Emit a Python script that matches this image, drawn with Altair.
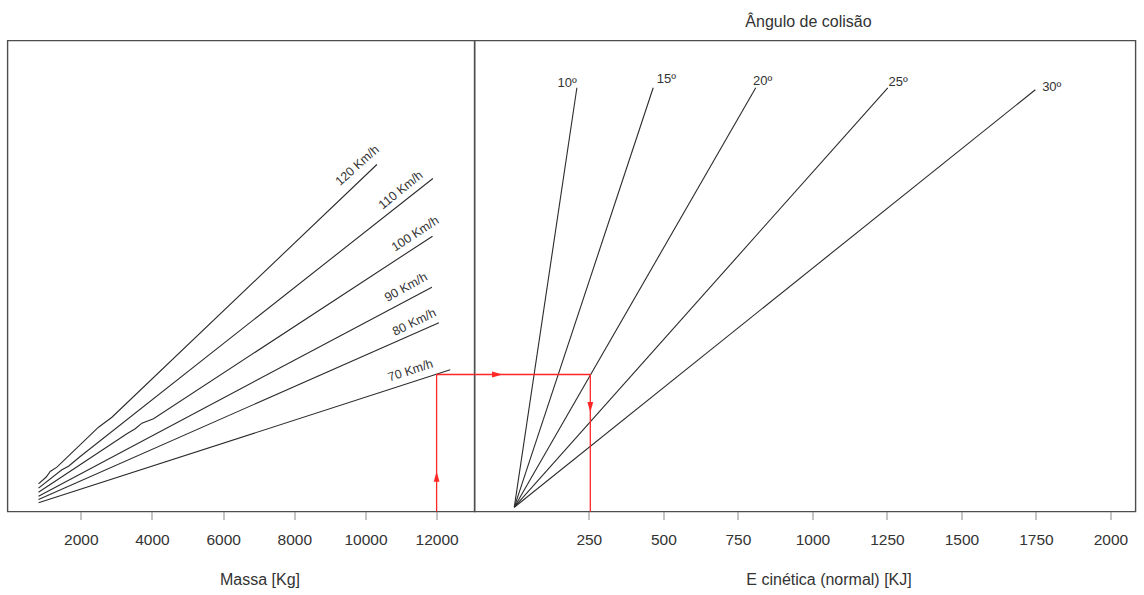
import altair as alt
import pandas as pd

FONT = "Liberation Sans"
TEXT = "#333333"
LINE = "#2b2b2b"
RED = "#ff2626"

# ---------------- left panel: mass vs. total kinetic energy ----------------
speed_names = ["120 Km/h", "110 Km/h", "100 Km/h", "90 Km/h", "80 Km/h", "70 Km/h"]
mass_120 = [811, 1027, 1140, 1328, 2497, 2874, 10322]
energy_120 = [400, 516, 610, 684, 1367, 1538, 5857]
mass_110 = [811, 1468, 1654, 1983, 11896]
energy_110 = [325, 639, 701, 867, 5618]
mass_100 = [811, 3295, 3529, 3717, 4043, 11885]
energy_100 = [256, 1254, 1340, 1436, 1511, 4632]
mass_90 = [811, 11868]
energy_90 = [188, 3760]
mass_80 = [811, 12065]
energy_80 = [132, 3152]
mass_70 = [811, 12383]
energy_70 = [75, 2348]

speed_label_mass = [9769, 10989, 11399, 11138, 11371, 11267]
speed_label_energy = [5840, 5421, 4673, 3760, 3162, 2336]
speed_label_angle = [318, 321, 327, 331, 334, 342]

mass_ticks = [2000, 4000, 6000, 8000, 10000, 12000]

# ---------------- right panel: collision angle fan ----------------
angle_names = ["10º", "15º", "20º", "25º", "30º"]
angle_end_en = [210, 466, 810, 1253, 1748]
angle_end_energy = [7168, 7168, 7168, 7168, 7134]
angle_label_en = [177, 510, 833, 1288, 1803]
angle_label_energy = [7178, 7253, 7219, 7190, 7110]

en_ticks = [250, 500, 750, 1000, 1250, 1500, 1750, 2000]

# ---------------- worked example (red path) ----------------
example_mass = 12000
example_energy = 2268
example_en = 255
arrow_up_energy = 525
arrow_right_en = -57
arrow_down_energy = 1709

# scales
MASS_DOMAIN = [-61, 13065]
EN_DOMAIN = [-133.5, 2084]
E_DOMAIN = [-73.5, 7976]
xl = alt.Scale(domain=MASS_DOMAIN, nice=False, zero=False)
xr = alt.Scale(domain=EN_DOMAIN, nice=False, zero=False)
ys = alt.Scale(domain=E_DOMAIN, nice=False, zero=False)

axis_left = alt.Axis(values=mass_ticks, format="d", title="Massa [Kg]", titleX=252, titleY=73,
                     titleBaseline="alphabetic", titleAlign="center", labelFlush=False)
axis_right = alt.Axis(values=en_ticks, format="d", title="E cinética (normal) [KJ]", titleX=354, titleY=73,
                      titleBaseline="alphabetic", titleAlign="center", labelFlush=False)

W1, W2, H = 467, 661, 471

# data frames
rows = []
for name, ms, es in zip(speed_names,
                        [mass_120, mass_110, mass_100, mass_90, mass_80, mass_70],
                        [energy_120, energy_110, energy_100, energy_90, energy_80, energy_70]):
    for i, (m, e) in enumerate(zip(ms, es)):
        rows.append({"speed": name, "i": i, "m": m, "E": e})
speed_df = pd.DataFrame(rows)
speed_lab_df = pd.DataFrame({"speed": speed_names, "m": speed_label_mass,
                             "E": speed_label_energy, "ang": speed_label_angle})

rows = []
for name, en, e in zip(angle_names, angle_end_en, angle_end_energy):
    rows.append({"angle": name, "i": 0, "en": 0, "E": 0})
    rows.append({"angle": name, "i": 1, "en": en, "E": e})
angle_df = pd.DataFrame(rows)
angle_lab_df = pd.DataFrame({"angle": angle_names, "en": angle_label_en, "E": angle_label_energy})

X_L = alt.X("m:Q", scale=xl, axis=axis_left)
X_R = alt.X("en:Q", scale=xr, axis=axis_right)
Y = alt.Y("E:Q", scale=ys, axis=None)

left_lines = alt.Chart(speed_df).mark_line(color=LINE, strokeWidth=1.1).encode(
    x=X_L, y=Y, detail="speed:N", order="i:Q")
left_labels = alt.Chart(speed_lab_df).mark_text(
    fontSize=12.5, color=TEXT, align="center", baseline="middle").encode(
    x=X_L, y=Y, text="speed:N", angle=alt.Angle("ang:Q", scale=None))
red_up = alt.Chart(pd.DataFrame({"m": [example_mass], "E": [E_DOMAIN[0]], "E2": [example_energy]})
                   ).mark_rule(color=RED, strokeWidth=1.3).encode(x=X_L, y=Y, y2="E2:Q")
red_across_l = alt.Chart(pd.DataFrame({"m": [example_mass], "m2": [MASS_DOMAIN[1]], "E": [example_energy]})
                         ).mark_rule(color=RED, strokeWidth=1.3).encode(x=X_L, x2="m2:Q", y=Y)
ARROW = "M0,-1L0.55,1L-0.55,1Z"
arrow_l = alt.Chart(pd.DataFrame({"m": [example_mass], "E": [arrow_up_energy], "rot": [0]})
                    ).mark_point(shape=ARROW, filled=True, size=110, color=RED, opacity=1).encode(
    x=X_L, y=Y, angle=alt.Angle("rot:Q", scale=None))

left = alt.layer(left_lines, left_labels, red_up, red_across_l, arrow_l).properties(width=W1, height=H)

right_lines = alt.Chart(angle_df).mark_line(color=LINE, strokeWidth=1.1).encode(
    x=X_R, y=Y, detail="angle:N", order="i:Q")
right_labels = alt.Chart(angle_lab_df).mark_text(
    fontSize=13, color=TEXT, align="center", baseline="alphabetic").encode(
    x=X_R, y=Y, text="angle:N")
red_across_r = alt.Chart(pd.DataFrame({"en": [EN_DOMAIN[0]], "en2": [example_en], "E": [example_energy]})
                         ).mark_rule(color=RED, strokeWidth=1.3).encode(x=X_R, x2="en2:Q", y=Y)
red_down = alt.Chart(pd.DataFrame({"en": [example_en], "E": [E_DOMAIN[0]], "E2": [example_energy]})
                     ).mark_rule(color=RED, strokeWidth=1.3).encode(x=X_R, y=Y, y2="E2:Q")
arrow_r = alt.Chart(pd.DataFrame({"en": [arrow_right_en, example_en],
                                  "E": [example_energy, arrow_down_energy], "rot": [90, 180]})
                    ).mark_point(shape=ARROW, filled=True, size=110, color=RED, opacity=1).encode(
    x=X_R, y=Y, angle=alt.Angle("rot:Q", scale=None))

right = alt.layer(right_lines, right_labels, red_across_r, red_down, arrow_r).properties(
    width=W2, height=H,
    title=alt.TitleParams("Ângulo de colisão", fontSize=16, fontWeight="normal", color=TEXT,
                          anchor="middle", baseline="alphabetic", offset=-2.5, dx=3.5, font=FONT))

chart = alt.hconcat(left, right, spacing=0, bounds="flush").resolve_scale(
    x="independent", y="independent").properties(
    padding={"left": 6.5, "top": 12.5, "right": 5, "bottom": 5}
).configure(font=FONT).configure_view(
    stroke="#4d4d4d", strokeWidth=1.4
).configure_axis(
    labelFont=FONT, titleFont=FONT, labelColor=TEXT, titleColor=TEXT,
    tickColor="#8a8a8a", tickWidth=1, domain=False, grid=False,
    labelFontSize=15.5, titleFontSize=16, titleFontWeight="normal",
    tickSize=8, labelPadding=13
).configure_title(font=FONT)

chart.save("out.html", embed_options={"renderer": "svg", "actions": False})
